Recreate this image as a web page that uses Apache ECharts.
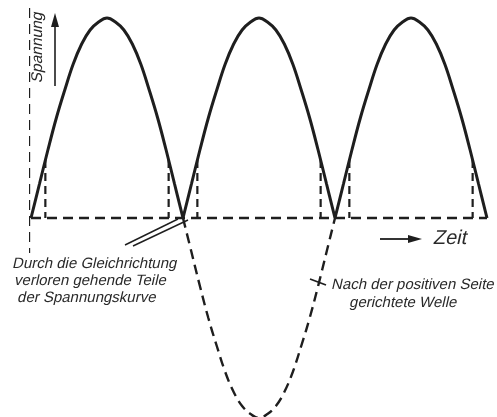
<!DOCTYPE html>
<html><head><meta charset="utf-8">
<script src="https://cdn.jsdelivr.net/npm/echarts@6/dist/echarts.min.js"></script>
<style>html,body{margin:0;padding:0;background:#fff}#c{width:497px;height:417px}</style>
</head><body><div id="c"></div>
<script>
// Voltage hump (one half wave): angle in degrees, relative voltage
const humpAngles = [0,10,20,30,40,50,60,70,80,90,100,110,120,130,140,150,160,170,180];
const humpValues = [0,0.17,0.34,0.5,0.64,0.77,0.87,0.94,0.98,1,0.98,0.94,0.87,0.77,0.64,0.5,0.34,0.17,0];
// start angles of the three rectified humps
const humpStarts = [0,180,360];
// start of the (dashed) original negative half wave
const negativeStarts = [180];
// parts lost by rectification: angle from zero crossing and the curve value there
const cutAngle = 17;
const cutValue = 0.29;
// time axis extent and voltage axis extent
const timeEnd = 540;
const voltAxis = {x: -2.4, top: 1.05, bottom: -0.175};

const solid = [];
humpStarts.forEach((s, k) => {
  if (k > 0) solid.push(null);
  humpAngles.forEach((a, i) => solid.push([s + a, humpValues[i]]));
});
const negative = [];
negativeStarts.forEach(s => humpAngles.forEach((a, i) => negative.push([s + a, -humpValues[i]])));
const cuts = [];
humpStarts.forEach(s => {
  cuts.push([s + cutAngle, cutValue], [s + cutAngle, 0], null);
  cuts.push([s + 180 - cutAngle, cutValue], [s + 180 - cutAngle, 0], null);
});

const ink = '#1e1e1e';
const dashed = (w) => ({color: ink, width: w, type: [10, 6]});
const lineSeries = (data, style, z, smooth) => ({
  type: 'line', data, symbol: 'none', clip: false, connectNulls: false,
  smooth: smooth || false,
  lineStyle: style, z: z || 2, silent: true, animation: false
});

const chart = echarts.init(document.getElementById('c'), null, {renderer: 'canvas'});
const txt = (text, x, y, size, extra) => ({
  type: 'text', x, y, skewX: -0.22,
  style: Object.assign({
    text, align: 'left', verticalAlign: 'middle', fill: '#2a2a2a',
    fontFamily: '"Liberation Sans", Arial, sans-serif', fontSize: size
  }, extra || {})
});
chart.setOption({
  animation: false,
  grid: {left: 31, right: 10, top: 18, bottom: 2},
  xAxis: {type: 'value', min: 0, max: timeEnd, show: false},
  yAxis: {type: 'value', min: -0.985, max: 1, show: false},
  series: [
    lineSeries(solid, {color: ink, width: 3}, 5, 0.4),
    lineSeries(negative, dashed(2.4), 2, 0.4),
    lineSeries([[0, 0], [timeEnd, 0]], dashed(2.4)),
    lineSeries([[voltAxis.x, voltAxis.top], [voltAxis.x, voltAxis.bottom]], dashed(2.4)),
    lineSeries(cuts, {color: ink, width: 2.2, type: [8, 5]})
  ],
  graphic: [
    // Spannung label + arrow
    Object.assign(txt('Spannung', 38, 47, 15.5, {align: 'center'}), {rotation: Math.PI / 2}),
    {type: 'line', shape: {x1: 55, y1: 86, x2: 55, y2: 24}, style: {stroke: ink, lineWidth: 1.6}},
    {type: 'polygon', shape: {points: [[55, 13], [51, 27], [59, 27]]}, style: {fill: ink}},
    // Zeit label + arrow
    {type: 'line', shape: {x1: 380, y1: 239, x2: 410, y2: 239}, style: {stroke: ink, lineWidth: 1.8}},
    {type: 'polygon', shape: {points: [[422, 239], [408, 235], [408, 243]]}, style: {fill: ink}},
    txt('Zeit', 434, 238, 20),
    // left annotation
    txt('Durch die Gleichrichtung', 13, 264, 15),
    txt('verloren gehende Teile', 15, 281, 15),
    txt('der Spannungskurve', 18, 298, 15),
    {type: 'line', shape: {x1: 125, y1: 245, x2: 178, y2: 219}, style: {stroke: ink, lineWidth: 1.4}},
    {type: 'line', shape: {x1: 133, y1: 246, x2: 188, y2: 220}, style: {stroke: ink, lineWidth: 1.4}},
    // right annotation
    {type: 'line', shape: {x1: 310, y1: 279, x2: 326, y2: 285}, style: {stroke: ink, lineWidth: 1.8}},
    txt('Nach der positiven Seite', 332, 285, 15),
    txt('gerichtete Welle', 350, 303, 15)
  ]
});
</script></body></html>
